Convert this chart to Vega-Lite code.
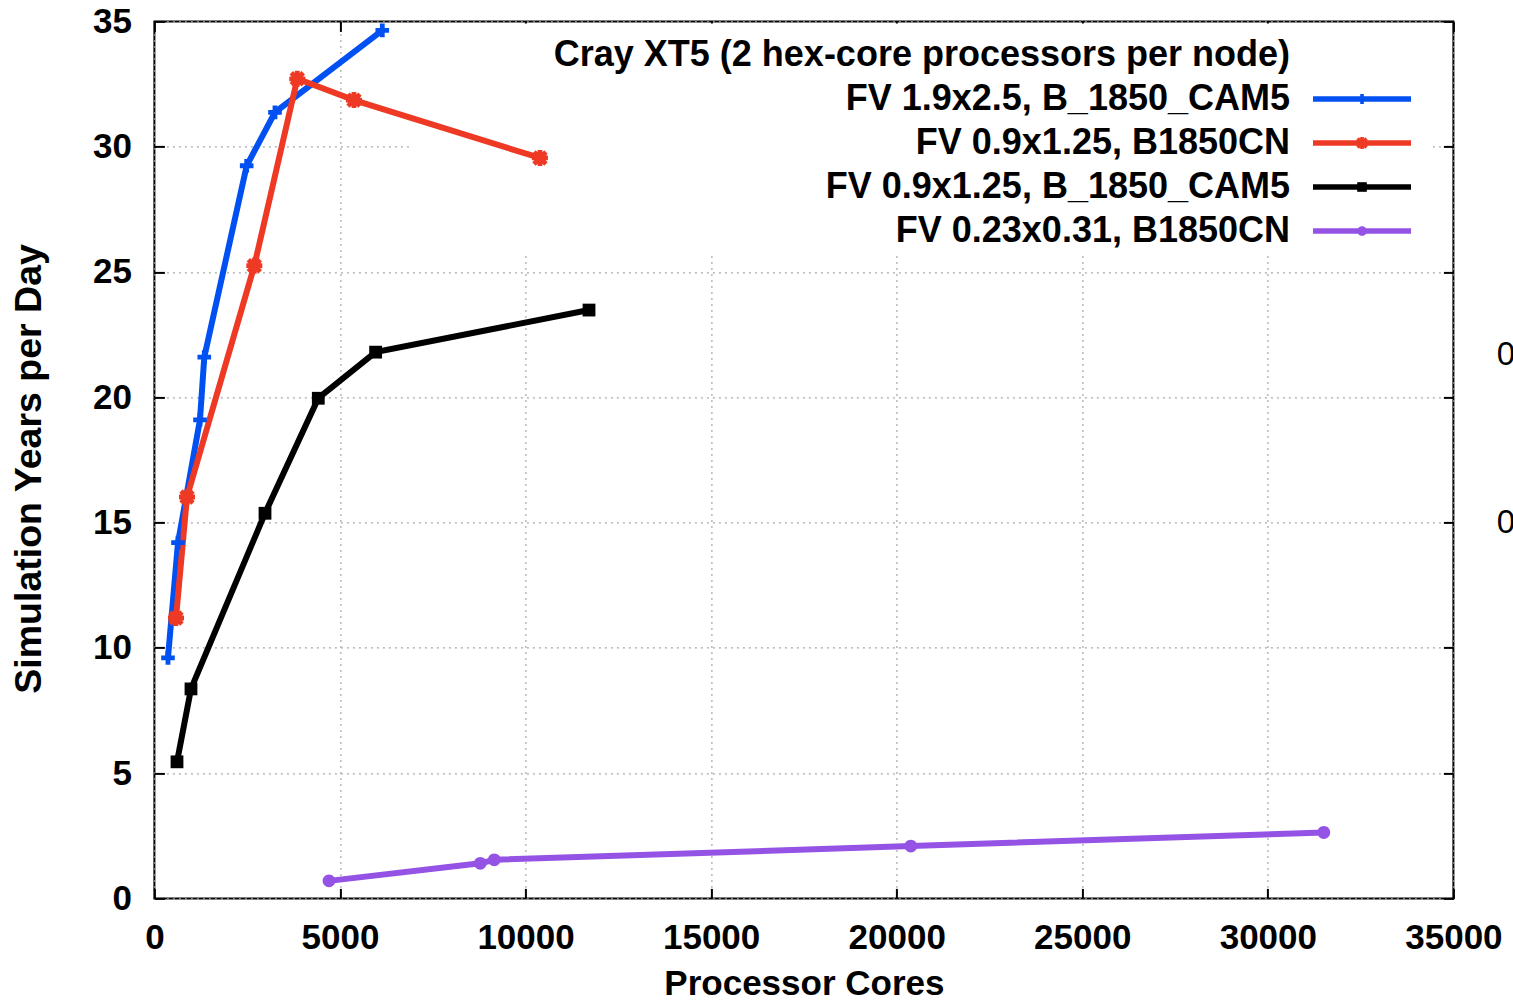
{
  "$schema": "https://vega.github.io/schema/vega-lite/v6.json",
  "width": 1299,
  "height": 877,
  "autosize": {"type": "none"},
  "padding": {"left": 154.4, "top": 21.4, "right": 59.6, "bottom": 108.6},
  "background": "white",
  "config": {
    "font": "Liberation Sans",
    "view": {"stroke": "#000000", "strokeWidth": 2},
    "axis": {
      "labelFont": "Liberation Sans",
      "labelFontWeight": "bold",
      "labelFontSize": 35,
      "labelColor": "#000000",
      "labelFlush": false,
      "labelOverlap": false,
      "titleFont": "Liberation Sans",
      "titleFontWeight": "bold",
      "titleColor": "#000000",
      "domain": false,
      "tickColor": "#000000",
      "tickWidth": 2,
      "tickSize": -10,
      "gridColor": "#a8a8a8",
      "gridDash": [2, 4],
      "gridWidth": 1.2
    }
  },
  "datasets": {
    "timing": [
      {"series": "FV 1.9x2.5, B_1850_CAM5", "cores": 366, "ypd": 9.6},
      {"series": "FV 1.9x2.5, B_1850_CAM5", "cores": 636, "ypd": 14.2},
      {"series": "FV 1.9x2.5, B_1850_CAM5", "cores": 1228, "ypd": 19.1},
      {"series": "FV 1.9x2.5, B_1850_CAM5", "cores": 1344, "ypd": 21.6},
      {"series": "FV 1.9x2.5, B_1850_CAM5", "cores": 2486, "ypd": 29.24},
      {"series": "FV 1.9x2.5, B_1850_CAM5", "cores": 3249, "ypd": 31.37},
      {"series": "FV 1.9x2.5, B_1850_CAM5", "cores": 6140, "ypd": 34.64},
      {"series": "FV 0.9x1.25, B1850CN", "cores": 582, "ypd": 11.19},
      {"series": "FV 0.9x1.25, B1850CN", "cores": 878, "ypd": 16.02},
      {"series": "FV 0.9x1.25, B1850CN", "cores": 2692, "ypd": 25.25},
      {"series": "FV 0.9x1.25, B1850CN", "cores": 3850, "ypd": 32.71},
      {"series": "FV 0.9x1.25, B1850CN", "cores": 5377, "ypd": 31.86},
      {"series": "FV 0.9x1.25, B1850CN", "cores": 10388, "ypd": 29.55},
      {"series": "FV 0.9x1.25, B_1850_CAM5", "cores": 609, "ypd": 5.45},
      {"series": "FV 0.9x1.25, B_1850_CAM5", "cores": 986, "ypd": 8.36},
      {"series": "FV 0.9x1.25, B_1850_CAM5", "cores": 2980, "ypd": 15.37},
      {"series": "FV 0.9x1.25, B_1850_CAM5", "cores": 4416, "ypd": 19.96},
      {"series": "FV 0.9x1.25, B_1850_CAM5", "cores": 5961, "ypd": 21.8},
      {"series": "FV 0.9x1.25, B_1850_CAM5", "cores": 11710, "ypd": 23.48},
      {"series": "FV 0.23x0.31, B1850CN", "cores": 4704, "ypd": 0.7},
      {"series": "FV 0.23x0.31, B1850CN", "cores": 8780, "ypd": 1.4},
      {"series": "FV 0.23x0.31, B1850CN", "cores": 9157, "ypd": 1.54},
      {"series": "FV 0.23x0.31, B1850CN", "cores": 20380, "ypd": 2.09},
      {"series": "FV 0.23x0.31, B1850CN", "cores": 31508, "ypd": 2.63}
    ],
    "key": [
      {"entry": "Cray XT5 (2 hex-core processors per node)"},
      {"entry": "FV 1.9x2.5, B_1850_CAM5"},
      {"entry": "FV 0.9x1.25, B1850CN"},
      {"entry": "FV 0.9x1.25, B_1850_CAM5"},
      {"entry": "FV 0.23x0.31, B1850CN"}
    ],
    "edge": [
      {"label": "0", "cores": 36170, "ypd": 21.7},
      {"label": "0", "cores": 36170, "ypd": 15.0}
    ]
  },
  "layer": [
    {
      "description": "plot: key box, series lines, markers and mirrored axes",
      "layer": [
        {
          "data": {"values": [{}]},
          "mark": {"type": "rect", "fill": "white"},
          "encoding": {
            "x": {"datum": 6885, "type": "quantitative", "axis": null, "scale": {"domain": [0, 35000], "nice": false, "zero": false}},
            "x2": {"datum": 34400},
            "y": {"datum": 25.8, "type": "quantitative", "axis": null, "scale": {"domain": [0, 35], "nice": false, "zero": false}},
            "y2": {"datum": 34.92}
          }
        },
        {
          "data": {"name": "timing"},
          "mark": {"type": "line", "strokeWidth": 6, "strokeJoin": "miter", "strokeCap": "butt"},
          "encoding": {
            "x": {
              "field": "cores",
              "type": "quantitative",
              "scale": {"domain": [0, 35000], "nice": false, "zero": false},
              "axis": {
                "orient": "bottom",
                "values": [0, 5000, 10000, 15000, 20000, 25000, 30000, 35000],
                "format": "d",
                "grid": true,
                "labelPadding": 32,
                "title": "Processor Cores",
                "titleFontSize": 35,
                "titlePadding": 11
              }
            },
            "y": {
              "field": "ypd",
              "type": "quantitative",
              "scale": {"domain": [0, 35], "nice": false, "zero": false},
              "axis": {
                "orient": "left",
                "values": [0, 5, 10, 15, 20, 25, 30, 35],
                "grid": true,
                "labelPadding": 33,
                "title": "Simulation Years per Day",
                "titleFontSize": 37.5,
                "titlePadding": 44,
                "titleY": 447
              }
            },
            "color": {
              "field": "series",
              "type": "nominal",
              "legend": null,
              "scale": {
                "domain": ["FV 1.9x2.5, B_1850_CAM5", "FV 0.9x1.25, B1850CN", "FV 0.9x1.25, B_1850_CAM5", "FV 0.23x0.31, B1850CN"],
                "range": ["#0050f2", "#ee3a24", "#000000", "#9453e4"]
              }
            }
          }
        },
        {
          "data": {"name": "timing"},
          "mark": {"type": "point", "filled": true, "size": 256, "opacity": 1, "strokeWidth": 0},
          "encoding": {
            "x": {
              "field": "cores",
              "type": "quantitative",
              "scale": {"domain": [0, 35000], "nice": false, "zero": false},
              "axis": {"orient": "top", "values": [0, 5000, 10000, 15000, 20000, 25000, 30000, 35000], "labels": false, "grid": false, "title": null}
            },
            "y": {
              "field": "ypd",
              "type": "quantitative",
              "scale": {"domain": [0, 35], "nice": false, "zero": false},
              "axis": {"orient": "right", "values": [0, 5, 10, 15, 20, 25, 30, 35], "labels": false, "grid": false, "title": null}
            },
            "color": {
              "field": "series",
              "type": "nominal",
              "legend": null,
              "scale": {
                "domain": ["FV 1.9x2.5, B_1850_CAM5", "FV 0.9x1.25, B1850CN", "FV 0.9x1.25, B_1850_CAM5", "FV 0.23x0.31, B1850CN"],
                "range": ["#0050f2", "#ee3a24", "#000000", "#9453e4"]
              }
            },
            "shape": {
              "field": "series",
              "type": "nominal",
              "legend": null,
              "scale": {
                "domain": ["FV 1.9x2.5, B_1850_CAM5", "FV 0.9x1.25, B1850CN", "FV 0.9x1.25, B_1850_CAM5", "FV 0.23x0.31, B1850CN"],
                "range": [
                  "M-0.85,-0.3H0.85V0.3H-0.85Z M-0.3,-0.85H0.3V0.85H-0.3Z",
                  "M-1,-0.3H1V0.3H-1Z M-0.3,-1H0.3V1H-0.3Z M-0.54,-0.96L0.96,0.54L0.54,0.96L-0.96,-0.54Z M0.54,-0.96L0.96,-0.54L-0.54,0.96L-0.96,0.54Z",
                  "M-0.8,-0.8H0.8V0.8H-0.8Z",
                  "M-0.8,0A0.8,0.8 0 1,1 0.8,0A0.8,0.8 0 1,1 -0.8,0Z"
                ]
              }
            }
          }
        },
        {
          "data": {"name": "edge"},
          "mark": {"type": "text", "align": "left", "baseline": "middle", "font": "Liberation Sans", "fontSize": 33, "color": "#000000"},
          "encoding": {
            "x": {"field": "cores", "type": "quantitative", "axis": null, "scale": {"domain": [0, 35000], "nice": false, "zero": false}},
            "y": {"field": "ypd", "type": "quantitative", "axis": null, "scale": {"domain": [0, 35], "nice": false, "zero": false}},
            "text": {"field": "label"}
          }
        }
      ],
      "resolve": {"axis": {"x": "independent", "y": "independent"}}
    },
    {
      "description": "key: title, right-aligned series names, line samples with markers",
      "data": {"name": "key"},
      "encoding": {
        "y": {
          "field": "entry",
          "type": "nominal",
          "axis": null,
          "scale": {
            "type": "point",
            "padding": 0,
            "domain": ["Cray XT5 (2 hex-core processors per node)", "FV 1.9x2.5, B_1850_CAM5", "FV 0.9x1.25, B1850CN", "FV 0.9x1.25, B_1850_CAM5", "FV 0.23x0.31, B1850CN"],
            "range": [33.6, 209.6]
          }
        }
      },
      "layer": [
        {
          "mark": {"type": "text", "align": "right", "baseline": "middle", "font": "Liberation Sans", "fontSize": 36, "fontWeight": "bold", "color": "#000000"},
          "encoding": {
            "x": {"datum": 30598, "type": "quantitative", "axis": null, "scale": {"domain": [0, 35000], "nice": false, "zero": false}},
            "text": {"field": "entry"}
          }
        },
        {
          "transform": [{"filter": {"field": "entry", "oneOf": ["FV 1.9x2.5, B_1850_CAM5", "FV 0.9x1.25, B1850CN", "FV 0.9x1.25, B_1850_CAM5", "FV 0.23x0.31, B1850CN"]}}],
          "mark": {"type": "rule", "strokeWidth": 5.5, "strokeCap": "butt"},
          "encoding": {
            "x": {"datum": 31217, "type": "quantitative", "axis": null, "scale": {"domain": [0, 35000], "nice": false, "zero": false}},
            "x2": {"datum": 33858},
            "color": {
              "field": "entry",
              "type": "nominal",
              "legend": null,
              "scale": {
                "domain": ["FV 1.9x2.5, B_1850_CAM5", "FV 0.9x1.25, B1850CN", "FV 0.9x1.25, B_1850_CAM5", "FV 0.23x0.31, B1850CN"],
                "range": ["#0050f2", "#ee3a24", "#000000", "#9453e4"]
              }
            }
          }
        },
        {
          "transform": [{"filter": {"field": "entry", "oneOf": ["FV 1.9x2.5, B_1850_CAM5", "FV 0.9x1.25, B1850CN", "FV 0.9x1.25, B_1850_CAM5", "FV 0.23x0.31, B1850CN"]}}],
          "mark": {"type": "point", "filled": true, "size": 144, "opacity": 1, "strokeWidth": 0},
          "encoding": {
            "x": {"datum": 32538, "type": "quantitative", "axis": null, "scale": {"domain": [0, 35000], "nice": false, "zero": false}},
            "color": {
              "field": "entry",
              "type": "nominal",
              "legend": null,
              "scale": {
                "domain": ["FV 1.9x2.5, B_1850_CAM5", "FV 0.9x1.25, B1850CN", "FV 0.9x1.25, B_1850_CAM5", "FV 0.23x0.31, B1850CN"],
                "range": ["#0050f2", "#ee3a24", "#000000", "#9453e4"]
              }
            },
            "shape": {
              "field": "entry",
              "type": "nominal",
              "legend": null,
              "scale": {
                "domain": ["FV 1.9x2.5, B_1850_CAM5", "FV 0.9x1.25, B1850CN", "FV 0.9x1.25, B_1850_CAM5", "FV 0.23x0.31, B1850CN"],
                "range": [
                  "M-0.85,-0.3H0.85V0.3H-0.85Z M-0.3,-0.85H0.3V0.85H-0.3Z",
                  "M-1,-0.3H1V0.3H-1Z M-0.3,-1H0.3V1H-0.3Z M-0.54,-0.96L0.96,0.54L0.54,0.96L-0.96,-0.54Z M0.54,-0.96L0.96,-0.54L-0.54,0.96L-0.96,0.54Z",
                  "M-0.8,-0.8H0.8V0.8H-0.8Z",
                  "M-0.8,0A0.8,0.8 0 1,1 0.8,0A0.8,0.8 0 1,1 -0.8,0Z"
                ]
              }
            }
          }
        }
      ]
    }
  ],
  "resolve": {"scale": {"y": "independent"}, "axis": {"x": "independent", "y": "independent"}}
}
